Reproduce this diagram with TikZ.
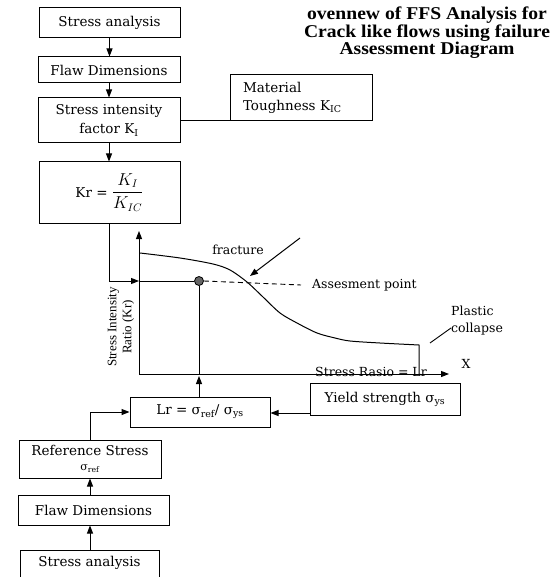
\documentclass[tikz,border=0pt]{standalone}
\usepackage{amsmath}
\usepackage{fontspec}
\setmainfont{DejaVu Serif}
\newfontfamily\timesf{Liberation Serif}
\newfontfamily\titlef[FakeStretch=1.09]{Liberation Serif Bold}
\usetikzlibrary{arrows.meta}
\begin{document}
\begin{tikzpicture}[x=1pt,y=-1pt,
  box/.style={draw, line width=1pt, inner sep=0pt, align=center, font=\fontsize{13.5}{19}\selectfont},
  arr/.style={-{Triangle[length=8pt,width=6pt]}, line width=1pt},
  ln/.style={line width=1pt},
  lbl/.style={font=\fontsize{12.5}{17}\selectfont, inner sep=0pt}
]
\useasboundingbox (0,0) rectangle (555,577);

% title
\node[font=\titlef\fontsize{18}{17.5}\selectfont, align=center, inner sep=0pt] (title) at (427,33) {ovennew of FFS Analysis for\\Crack like flows using failure\\Assessment Diagram};

% top chain
\node[box, minimum width=141pt, minimum height=30pt] (sa1) at (109.5,23) {Stress analysis};
\node[box, minimum width=142pt, minimum height=26pt] (fd1) at (109,70) {Flaw Dimensions};
\node[box, minimum width=142pt, minimum height=45pt] (si) at (109,120.5) {Stress intensity\\factor K\textsubscript{I}};
\node[box, minimum width=141pt, minimum height=61pt] (kr) at (109.5,192.5) {Kr = {\fontsize{16}{19}\selectfont$\dfrac{K_I}{K_{IC}}$}};
\node[box, minimum width=142pt, minimum height=46pt, align=left, text width=116pt, font=\fontsize{13.5}{18}\selectfont] (mat) at (301,98) {Material\\Toughness K\textsubscript{IC}};

\draw[arr] (sa1.south) -- (sa1.south |- fd1.north);
\draw[arr] (fd1.south) -- (fd1.south |- si.north);
\draw[arr] (si.south) -- (si.south |- kr.north);
\draw[ln] (si.east) -- (si.east -| mat.west);

% chart
\coordinate (O) at (139,374);
\coordinate (Ytop) at (139,231);
\coordinate (Xend) at (449,374);
\draw[arr] (O) -- (Ytop);
\draw[arr] (O) -- (Xend);
\node[circle, draw, fill=black!60, line width=0.8pt, inner sep=0pt, minimum size=9pt] (pt) at (199,281) {};

\draw[ln] plot[smooth] coordinates {(140,253) (180,258) (213,264) (230,270) (247,282) (263,297) (280,313) (297,323) (317,333) (335,338) (350,341) (380,343) (419,345)} -- (419,374);

\draw[arr] (kr.south) |- (O |- pt);
\draw[ln] (O |- pt) -- (pt);

\node[lbl, anchor=west] (ap) at (312,285) {Assesment point};
\draw[line width=0.9pt, dash pattern=on 5pt off 3.5pt] (pt.east) -- ([xshift=-11pt]ap.west);

\node[lbl] (fr) at (238,250) {fracture};
\coordinate (frs) at (300,238);
\coordinate (frt) at (250,276);
\draw[arr] (frs) -- (frt);

\node[lbl, anchor=west, align=left] (pc) at (451,321) {Plastic\\collapse};
\coordinate (pcs) at (430,343);
\coordinate (pce) at (451,328);
\draw[line width=0.9pt] (pcs) -- (pce);

\node[lbl] (xl) at (466,364) {X};
\node[lbl, anchor=base] (sr) at (371,376) {Stress Rasio = Lr};

\node[font=\timesf\fontsize{13}{15}\selectfont, rotate=90, align=center, inner sep=0pt] (yl) at (121,327) {Stress Intensity\\Ratio (Kr)};

% lower chain
\node[box, minimum width=140pt, minimum height=30pt] (lr) at (200,412) {Lr = σ\textsubscript{ref}/ σ\textsubscript{ys}};
\node[box, minimum width=150pt, minimum height=32pt] (ys) at (385,399) {Yield strength σ\textsubscript{ys}};
\node[box, minimum width=142pt, minimum height=38pt] (ref) at (90,459) {Reference Stress\\[-4pt]{\fontsize{11}{13}\selectfont σ\textsubscript{ref}}};
\node[box, minimum width=151pt, minimum height=30pt] (fd2) at (93.5,510) {Flaw Dimensions};
\coordinate (sa2tl) at (20,550);
\coordinate (sa2tr) at (159,550);
\coordinate (sa2bl) at (20,590);
\coordinate (sa2br) at (159,590);
\draw[ln] (sa2bl) -- (sa2tl) -- (sa2tr) -- (sa2br);
\node[box, draw=none] (sa2) at (89.5,563) {Stress analysis};

\coordinate (cx) at (90,0);
\coordinate (cy) at (0,413);
\draw[arr] (pt |- lr.north) -- ([yshift=-2pt]pt |- O);
\draw[ln] (pt |- O) -- (pt);
\draw[arr] (ys.west |- cy) -- (lr.east |- cy);
\draw[arr] (ref.north -| cx) |- (lr.west);
\draw[arr] (fd2.north -| cx) -- (ref.south -| cx);
\draw[arr] (sa2tl -| cx) -- (fd2.south -| cx);
\end{tikzpicture}
\end{document}
